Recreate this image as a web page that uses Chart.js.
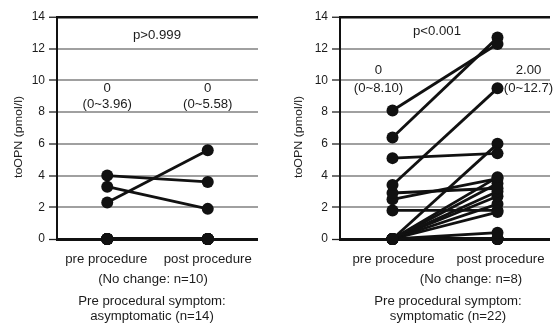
<!DOCTYPE html>
<html>
<head>
<meta charset="utf-8">
<script src="https://cdn.jsdelivr.net/npm/chart.js@4"></script>
<style>
  html, body { margin:0; padding:0; background:#fff; }
  #wrap { position:relative; width:556px; height:324px; overflow:hidden; }
  .c { position:absolute; top:0; }
</style>
</head>
<body>
<div id="wrap">
  <div class="c" style="left:0;width:280px;height:324px"><canvas id="left"></canvas></div>
  <div class="c" style="left:280px;width:276px;height:324px"><canvas id="right"></canvas></div>
</div>
<script>
// ---- data ----
const categories = ['pre procedure', 'post procedure'];
const yMin = 0, yMax = 14, yStep = 2;
const axisTitle = 'toOPN (pmol/l)';

const asymPre  = [4.0, 3.3, 2.3, 0, 0, 0, 0, 0, 0, 0, 0, 0, 0, 0];
const asymPost = [3.6, 1.9, 5.6, 0, 0, 0, 0, 0, 0, 0, 0, 0, 0, 0];

const symPre  = [8.1, 6.4, 5.1, 3.4, 2.9, 2.5, 1.8, 0, 0, 0, 0, 0, 0, 0, 0, 0, 0, 0, 0, 0, 0, 0];
const symPost = [12.3, 12.7, 5.4, 9.5, 3.2, 3.8, 1.8, 6.0, 3.9, 3.5, 3.0, 2.7, 2.2, 1.7, 0.4, 0, 0, 0, 0, 0, 0, 0];

const asymP = 'p>0.999';
const asymMedPre = ['0', '(0~3.96)'];
const asymMedPost = ['0', '(0~5.58)'];
const asymNoChange = '(No change: n=10)';
const asymGroup = ['Pre procedural symptom:', 'asymptomatic (n=14)'];

const symP = 'p<0.001';
const symMedPre = ['0', '(0~8.10)'];
const symMedPost = ['2.00', '(0~12.7)'];
const symNoChange = '(No change: n=8)';
const symGroup = ['Pre procedural symptom:', 'symptomatic (n=22)'];

// ---- helpers ----
const FONT = '"Liberation Sans", Arial, Helvetica, sans-serif';
const TXT = '#1c1c1c';
const FS = 12;
const SX = 1.1;

function txt(ctx, s, x, y, size) {
  ctx.save();
  ctx.font = size + 'px ' + FONT;
  ctx.fillStyle = TXT;
  ctx.textBaseline = 'middle';
  ctx.textAlign = 'center';
  ctx.translate(x, y);
  ctx.scale(SX, 1);
  ctx.fillText(s, 0, 0);
  ctx.restore();
}

function makeDatasets(pre, post) {
  return pre.map((v, i) => ({
    data: [v, post[i]],
    borderColor: '#111',
    backgroundColor: '#111',
    borderWidth: 2.8,
    pointRadius: 6,
    pointBackgroundColor: '#111',
    pointBorderWidth: 0,
    pointHoverRadius: 6,
    clip: false,
    tension: 0
  }));
}

function makeChart(id, pre, post, plotLeft, padRight, annot) {
  const overlay = {
    id: 'overlay',
    afterDraw(chart) {
      const ctx = chart.ctx;
      const xs = chart.scales.x, ys = chart.scales.y;
      const ca = chart.chartArea;
      // y axis title
      ctx.save();
      ctx.font = '11.5px ' + FONT;
      ctx.fillStyle = TXT;
      ctx.textAlign = 'center';
      ctx.textBaseline = 'middle';
      ctx.translate(annot.titleX, (ca.top + ca.bottom) / 2 + 9);
      ctx.rotate(-Math.PI / 2);
      ctx.scale(1.08, 1);
      ctx.fillText(axisTitle, 0, 0);
      ctx.restore();
      // category labels
      categories.forEach((c, i) => {
        txt(ctx, c, xs.getPixelForValue(i) + annot.catDx[i], ca.bottom + 21, FS);
      });
      // bottom texts
      txt(ctx, annot.noChange, annot.noChangeX, ca.bottom + 41, FS);
      txt(ctx, annot.group[0], annot.groupX, ca.bottom + 63, FS);
      txt(ctx, annot.group[1], annot.groupX, ca.bottom + 78, FS);
      // p value
      txt(ctx, annot.p, annot.pX, ys.getPixelForValue(annot.pY), FS);
      // medians
      const a = annot.medPre, b = annot.medPost;
      const x0 = xs.getPixelForValue(0) + annot.medDx[0];
      const x1 = xs.getPixelForValue(1) + annot.medDx[1];
      txt(ctx, a[0], x0, ys.getPixelForValue(annot.medY[0]), FS);
      txt(ctx, a[1], x0, ys.getPixelForValue(annot.medY[1]), FS);
      txt(ctx, b[0], x1, ys.getPixelForValue(annot.medY[0]), FS);
      txt(ctx, b[1], x1, ys.getPixelForValue(annot.medY[1]), FS);
    }
  };

  return new Chart(document.getElementById(id), {
    type: 'line',
    data: { labels: categories, datasets: makeDatasets(pre, post) },
    options: {
      responsive: true,
      maintainAspectRatio: false,
      animation: false,
      events: [],
      layout: { padding: { top: 17, right: padRight, left: 0, bottom: 0 } },
      plugins: { legend: { display: false }, tooltip: { enabled: false } },
      scales: {
        x: {
          type: 'category',
          offset: true,
          grid: { display: false, drawTicks: false },
          border: { display: false },
          ticks: { display: false },
          afterFit(s) { s.height = 85; }
        },
        y: {
          min: yMin, max: yMax,
          ticks: {
            stepSize: yStep,
            padding: 4,
            color: '#1c1c1c',
            font: { family: FONT, size: 12 }
          },
          grid: {
            color: c => (c.tick && (c.tick.value === 0 || c.tick.value === 14)) ? '#111' : '#a0a0a0',
            lineWidth: c => (c.tick && c.tick.value === 0) ? 3 : (c.tick && c.tick.value === 14 ? 2.5 : 2),
            tickLength: 8,
            tickColor: '#222',
            tickWidth: 1.3
          },
          border: { color: '#111', width: 2 },
          afterFit(s) { s.width = plotLeft; }
        }
      }
    },
    plugins: [overlay]
  });
}

makeChart('left', asymPre, asymPost, 57, 22, {
  titleX: 19,
  catDx: [-1, 0],
  noChange: asymNoChange, noChangeX: 153,
  group: asymGroup, groupX: 152,
  p: asymP, pX: 157, pY: 12.8,
  medPre: asymMedPre, medPost: asymMedPost,
  medDx: [0, 0], medY: [9.5, 8.5]
});

makeChart('right', symPre, symPost, 60, 0, {
  titleX: 19,
  catDx: [1, 3],
  noChange: symNoChange, noChangeX: 191,
  group: symGroup, groupX: 168,
  p: symP, pX: 157, pY: 13.1,
  medPre: symMedPre, medPost: symMedPost,
  medDx: [-14, 31], medY: [10.6, 9.5]
});
</script>
</body>
</html>
